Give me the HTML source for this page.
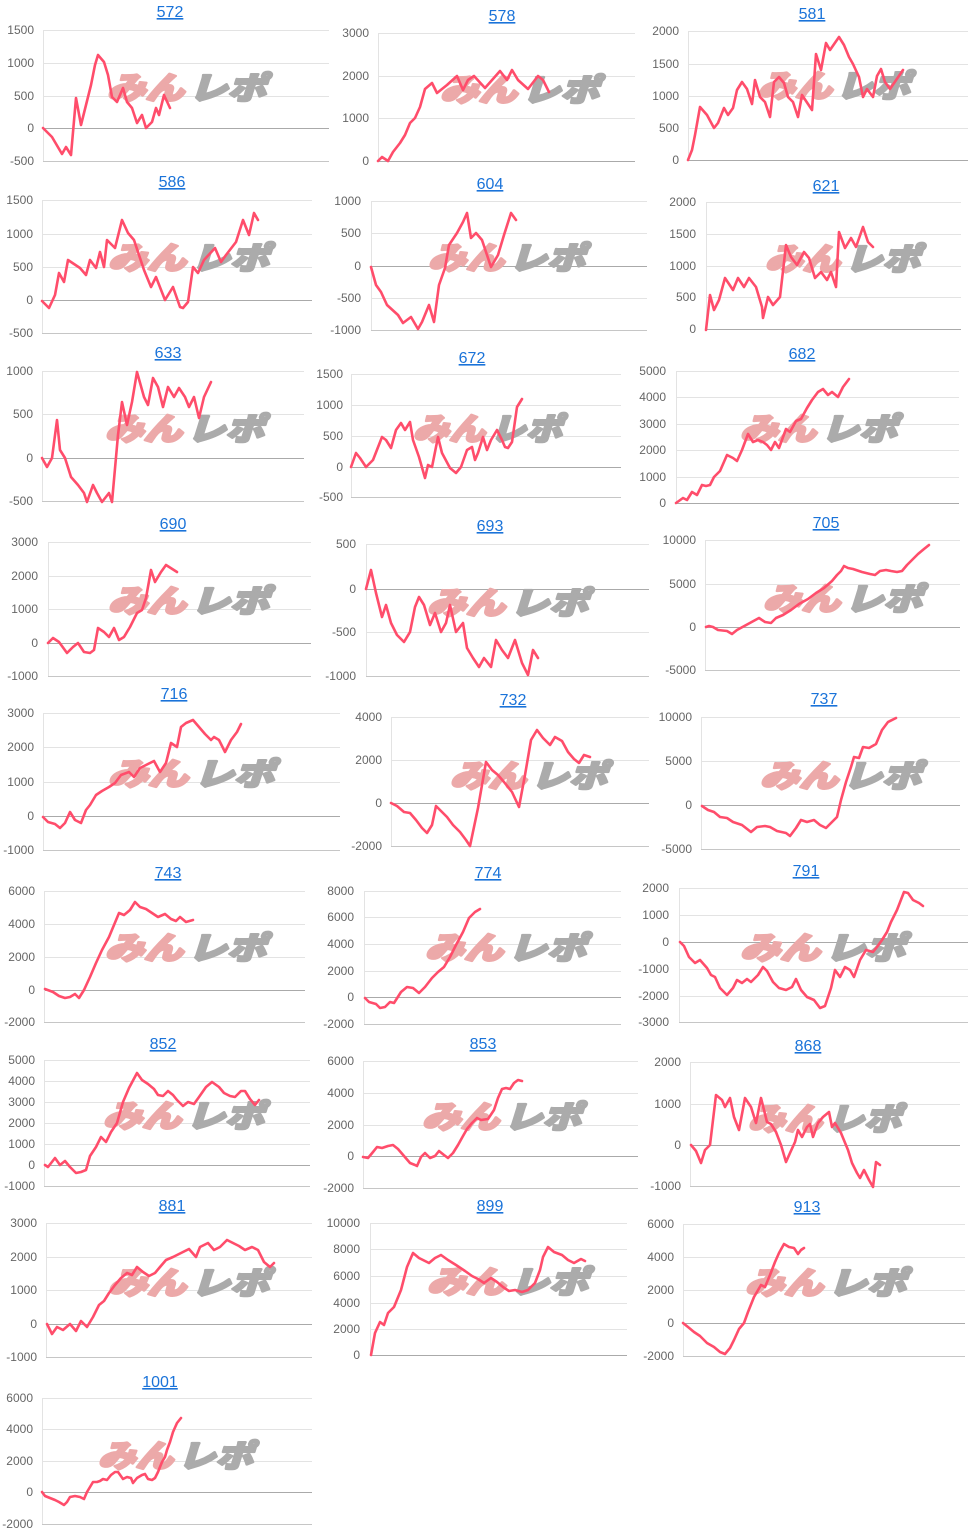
<!DOCTYPE html>
<html><head><meta charset="utf-8">
<style>
html,body{margin:0;padding:0;background:#fff;}
svg{display:block;}
.g{stroke:#e3e3e3;stroke-width:1}
.z{stroke:#aaa;stroke-width:1}
.b{stroke:#c6c6c6;stroke-width:1}
.v{stroke:#e3e3e3;stroke-width:1}
.l{fill:none;stroke:#ff4d6b;stroke-width:2.6;stroke-linejoin:round;stroke-linecap:round}
.t{font-family:"Liberation Sans",Arial,sans-serif;font-size:12px;fill:#666;text-anchor:end}
.h{font-family:"Liberation Sans",Arial,sans-serif;font-size:16px;fill:#1a73d9;text-decoration:underline;text-anchor:middle}
.wa{font-family:"Liberation Sans","Noto Sans CJK JP",sans-serif;font-size:31px;font-weight:900;font-style:italic;fill:#eca9a9;stroke:#eca9a9;stroke-width:2.4;stroke-linejoin:round}
.wb{font-family:"Liberation Sans","Noto Sans CJK JP",sans-serif;font-size:31px;font-weight:900;font-style:italic;fill:#ababab;stroke:#ababab;stroke-width:2.4;stroke-linejoin:round}
</style></head>
<body>
<svg width="973" height="1534" viewBox="0 0 973 1534" xmlns="http://www.w3.org/2000/svg">

<!-- 572 -->
<g>
<line class="g" x1="43" x2="329" y1="30.5" y2="30.5"/><line class="g" x1="43" x2="329" y1="63.5" y2="63.5"/><line class="g" x1="43" x2="329" y1="96.5" y2="96.5"/><line class="z" x1="43" x2="329" y1="128.5" y2="128.5"/><line class="b" x1="43" x2="329" y1="161.5" y2="161.5"/>
<line class="v" x1="43.5" x2="43.5" y1="30" y2="161"/>
<text class="t" x="34" y="34">1500</text><text class="t" x="34" y="67">1000</text><text class="t" x="34" y="100">500</text><text class="t" x="34" y="132">0</text><text class="t" x="34" y="165">-500</text>
<text class="h" x="170" y="17">572</text>
<g transform="translate(107,102)"><text class="wa" x="0" y="-3" textLength="77" lengthAdjust="spacingAndGlyphs">みん</text><text class="wb" x="82" y="-3" textLength="77" lengthAdjust="spacingAndGlyphs">レポ</text></g>
<polyline class="l" points="43,128 52,137 62,154 66,147 71,155 76,98 81,125 86,105 91,85 95,65 98,55 104,62 108,75 112,97 117,102 123,88 127,102 132,108 137,123 142,115 146,128 152,122 156,108 159,115 164,95 170,108"/>
</g>

<!-- 578 -->
<g>
<line class="g" x1="378" x2="635" y1="33.5" y2="33.5"/><line class="g" x1="378" x2="635" y1="76.5" y2="76.5"/><line class="g" x1="378" x2="635" y1="118.5" y2="118.5"/><line class="z" x1="378" x2="635" y1="161.5" y2="161.5"/>
<line class="v" x1="378.5" x2="378.5" y1="33" y2="161"/>
<text class="t" x="369" y="37">3000</text><text class="t" x="369" y="80">2000</text><text class="t" x="369" y="122">1000</text><text class="t" x="369" y="165">0</text>
<text class="h" x="502" y="21">578</text>
<g transform="translate(440,104)"><text class="wa" x="0" y="-3" textLength="77" lengthAdjust="spacingAndGlyphs">みん</text><text class="wb" x="82" y="-3" textLength="77" lengthAdjust="spacingAndGlyphs">レポ</text></g>
<polyline class="l" points="378,161 382,157 388,161 393,152 400,143 405,135 410,123 415,118 420,107 425,89 432,83 437,93 447,85 457,76 463,90 468,80 474,76 485,88 500,71 507,80 512,70 518,80 528,89 538,76 543,80 549,92"/>
</g>

<!-- 581 -->
<g>
<line class="g" x1="688" x2="968" y1="31.5" y2="31.5"/><line class="g" x1="688" x2="968" y1="64.5" y2="64.5"/><line class="g" x1="688" x2="968" y1="96.5" y2="96.5"/><line class="g" x1="688" x2="968" y1="128.5" y2="128.5"/><line class="z" x1="688" x2="968" y1="160.5" y2="160.5"/>
<line class="v" x1="688.5" x2="688.5" y1="31" y2="160"/>
<text class="t" x="679" y="35">2000</text><text class="t" x="679" y="68">1500</text><text class="t" x="679" y="100">1000</text><text class="t" x="679" y="132">500</text><text class="t" x="679" y="164">0</text>
<text class="h" x="812" y="19">581</text>
<g transform="translate(758,100)"><text class="wa" x="0" y="-3" textLength="74" lengthAdjust="spacingAndGlyphs">みん</text><text class="wb" x="78" y="-3" textLength="74" lengthAdjust="spacingAndGlyphs">レポ</text></g>
<polyline class="l" points="688,160 692,150 695,135 700,107 707,115 714,128 718,123 724,108 728,115 733,108 737,90 742,82 747,89 752,104 755,80 760,97 765,102 770,117 774,82 779,77 784,83 788,97 793,102 798,117 802,95 812,110 816,54 821,70 826,43 830,50 839,37 844,45 849,57 853,64 859,77 863,97 867,89 873,97 877,76 881,69 885,82 890,89 903,70"/>
</g>

<!-- 586 -->
<g>
<line class="g" x1="42" x2="312" y1="200.5" y2="200.5"/><line class="g" x1="42" x2="312" y1="234.5" y2="234.5"/><line class="g" x1="42" x2="312" y1="267.5" y2="267.5"/><line class="z" x1="42" x2="312" y1="300.5" y2="300.5"/><line class="b" x1="42" x2="312" y1="333.5" y2="333.5"/>
<line class="v" x1="42.5" x2="42.5" y1="200" y2="333"/>
<text class="t" x="33" y="204">1500</text><text class="t" x="33" y="238">1000</text><text class="t" x="33" y="271">500</text><text class="t" x="33" y="304">0</text><text class="t" x="33" y="337">-500</text>
<text class="h" x="172" y="187">586</text>
<g transform="translate(108,272)"><text class="wa" x="0" y="-3" textLength="78" lengthAdjust="spacingAndGlyphs">みん</text><text class="wb" x="83" y="-3" textLength="78" lengthAdjust="spacingAndGlyphs">レポ</text></g>
<polyline class="l" points="42,301 49,308 55,295 59,273 64,282 68,260 80,268 86,275 90,260 96,268 100,252 104,267 107,240 115,248 122,220 128,233 134,240 144,270 151,287 156,277 165,300 173,287 180,307 183,308 188,302 193,267 198,273 204,260 215,248 221,262 226,255 236,242 243,220 249,235 254,213 258,220"/>
</g>

<!-- 604 -->
<g>
<line class="g" x1="371" x2="647" y1="201.5" y2="201.5"/><line class="g" x1="371" x2="647" y1="233.5" y2="233.5"/><line class="z" x1="371" x2="647" y1="266.5" y2="266.5"/><line class="g" x1="371" x2="647" y1="298.5" y2="298.5"/><line class="b" x1="371" x2="647" y1="330.5" y2="330.5"/>
<line class="v" x1="371.5" x2="371.5" y1="201" y2="330"/>
<text class="t" x="361" y="205">1000</text><text class="t" x="361" y="237">500</text><text class="t" x="361" y="270">0</text><text class="t" x="361" y="302">-500</text><text class="t" x="361" y="334">-1000</text>
<text class="h" x="490" y="189">604</text>
<g transform="translate(428,272)"><text class="wa" x="0" y="-3" textLength="76" lengthAdjust="spacingAndGlyphs">みん</text><text class="wb" x="81" y="-3" textLength="76" lengthAdjust="spacingAndGlyphs">レポ</text></g>
<polyline class="l" points="371,267 376,285 381,292 387,305 398,315 403,323 411,317 418,329 422,322 429,305 434,322 439,285 445,268 449,245 457,233 463,222 467,213 471,238 476,233 482,240 491,267 498,255 504,235 511,213 516,220"/>
</g>

<!-- 621 -->
<g>
<line class="g" x1="706" x2="961" y1="202.5" y2="202.5"/><line class="g" x1="706" x2="961" y1="234.5" y2="234.5"/><line class="g" x1="706" x2="961" y1="266.5" y2="266.5"/><line class="g" x1="706" x2="961" y1="297.5" y2="297.5"/><line class="z" x1="706" x2="961" y1="329.5" y2="329.5"/>
<line class="v" x1="706.5" x2="706.5" y1="202" y2="329"/>
<text class="t" x="696" y="206">2000</text><text class="t" x="696" y="238">1500</text><text class="t" x="696" y="270">1000</text><text class="t" x="696" y="301">500</text><text class="t" x="696" y="333">0</text>
<text class="h" x="826" y="191">621</text>
<g transform="translate(765,273)"><text class="wa" x="0" y="-3" textLength="75" lengthAdjust="spacingAndGlyphs">みん</text><text class="wb" x="80" y="-3" textLength="75" lengthAdjust="spacingAndGlyphs">レポ</text></g>
<polyline class="l" points="706,330 710,295 714,310 719,300 725,278 733,290 738,278 744,287 749,278 756,287 762,307 763,318 768,297 773,305 780,297 786,245 791,257 797,265 804,252 809,258 815,278 821,272 827,280 831,272 836,287 839,232 845,248 851,238 856,247 863,227 868,242 873,247"/>
</g>

<!-- 633 -->
<g>
<line class="g" x1="42" x2="304" y1="371.5" y2="371.5"/><line class="g" x1="42" x2="304" y1="414.5" y2="414.5"/><line class="z" x1="42" x2="304" y1="458.5" y2="458.5"/><line class="b" x1="42" x2="304" y1="501.5" y2="501.5"/>
<line class="v" x1="42.5" x2="42.5" y1="371" y2="501"/>
<text class="t" x="33" y="375">1000</text><text class="t" x="33" y="418">500</text><text class="t" x="33" y="462">0</text><text class="t" x="33" y="505">-500</text>
<text class="h" x="168" y="358">633</text>
<g transform="translate(105,443)"><text class="wa" x="0" y="-3" textLength="77" lengthAdjust="spacingAndGlyphs">みん</text><text class="wb" x="82" y="-3" textLength="77" lengthAdjust="spacingAndGlyphs">レポ</text></g>
<polyline class="l" points="42,458 47,467 52,458 57,420 60,450 65,458 71,477 78,485 84,493 87,502 93,485 97,493 102,502 109,493 112,502 118,435 122,402 127,425 132,402 137,372 144,397 148,405 153,378 158,387 163,407 168,387 174,397 179,388 185,397 189,407 194,397 199,418 204,397 211,382"/>
</g>

<!-- 672 -->
<g>
<line class="g" x1="351" x2="621" y1="374.5" y2="374.5"/><line class="g" x1="351" x2="621" y1="405.5" y2="405.5"/><line class="g" x1="351" x2="621" y1="436.5" y2="436.5"/><line class="z" x1="351" x2="621" y1="467.5" y2="467.5"/><line class="b" x1="351" x2="621" y1="497.5" y2="497.5"/>
<line class="v" x1="351.5" x2="351.5" y1="374" y2="497"/>
<text class="t" x="343" y="378">1500</text><text class="t" x="343" y="409">1000</text><text class="t" x="343" y="440">500</text><text class="t" x="343" y="471">0</text><text class="t" x="343" y="501">-500</text>
<text class="h" x="472" y="363">672</text>
<g transform="translate(413,443)"><text class="wa" x="0" y="-3" textLength="72" lengthAdjust="spacingAndGlyphs">みん</text><text class="wb" x="77" y="-3" textLength="72" lengthAdjust="spacingAndGlyphs">レポ</text></g>
<polyline class="l" points="351,467 356,453 360,458 366,467 373,460 382,437 386,440 391,448 396,430 401,423 405,430 410,422 413,440 419,457 425,478 428,465 432,467 438,437 442,453 450,468 456,473 461,467 467,450 472,447 475,460 478,453 483,437 487,450 491,440 497,430 502,440 505,447 508,448 512,442 517,407 522,399"/>
</g>

<!-- 682 -->
<g>
<line class="g" x1="676" x2="959" y1="371.5" y2="371.5"/><line class="g" x1="676" x2="959" y1="397.5" y2="397.5"/><line class="g" x1="676" x2="959" y1="424.5" y2="424.5"/><line class="g" x1="676" x2="959" y1="450.5" y2="450.5"/><line class="g" x1="676" x2="959" y1="477.5" y2="477.5"/><line class="z" x1="676" x2="959" y1="503.5" y2="503.5"/>
<line class="v" x1="676.5" x2="676.5" y1="371" y2="503"/>
<text class="t" x="666" y="375">5000</text><text class="t" x="666" y="401">4000</text><text class="t" x="666" y="428">3000</text><text class="t" x="666" y="454">2000</text><text class="t" x="666" y="481">1000</text><text class="t" x="666" y="507">0</text>
<text class="h" x="802" y="359">682</text>
<g transform="translate(740,443)"><text class="wa" x="0" y="-3" textLength="76" lengthAdjust="spacingAndGlyphs">みん</text><text class="wb" x="81" y="-3" textLength="76" lengthAdjust="spacingAndGlyphs">レポ</text></g>
<polyline class="l" points="676,503 683,498 687,500 692,492 697,495 702,485 706,486 710,485 714,477 720,471 727,455 733,458 737,461 742,450 748,434 753,442 758,440 763,442 767,445 771,450 775,442 779,448 786,429 790,432 796,421 801,419 807,408 812,400 818,392 823,389 828,395 832,392 838,397 843,387 849,379"/>
</g>

<!-- 690 -->
<g>
<line class="g" x1="48" x2="311" y1="542.5" y2="542.5"/><line class="g" x1="48" x2="311" y1="576.5" y2="576.5"/><line class="g" x1="48" x2="311" y1="609.5" y2="609.5"/><line class="z" x1="48" x2="311" y1="643.5" y2="643.5"/><line class="b" x1="48" x2="311" y1="676.5" y2="676.5"/>
<line class="v" x1="48.5" x2="48.5" y1="542" y2="676"/>
<text class="t" x="38" y="546">3000</text><text class="t" x="38" y="580">2000</text><text class="t" x="38" y="613">1000</text><text class="t" x="38" y="647">0</text><text class="t" x="38" y="680">-1000</text>
<text class="h" x="173" y="529">690</text>
<g transform="translate(108,615)"><text class="wa" x="0" y="-3" textLength="78" lengthAdjust="spacingAndGlyphs">みん</text><text class="wb" x="83" y="-3" textLength="78" lengthAdjust="spacingAndGlyphs">レポ</text></g>
<polyline class="l" points="48,643 53,638 59,642 67,653 73,647 78,643 84,652 90,653 94,650 98,628 104,632 109,637 114,628 119,640 124,637 130,627 137,613 142,610 146,598 151,570 155,582 161,572 166,565 177,572"/>
</g>

<!-- 693 -->
<g>
<line class="g" x1="366" x2="649" y1="544.5" y2="544.5"/><line class="z" x1="366" x2="649" y1="589.5" y2="589.5"/><line class="g" x1="366" x2="649" y1="632.5" y2="632.5"/><line class="b" x1="366" x2="649" y1="676.5" y2="676.5"/>
<line class="v" x1="366.5" x2="366.5" y1="544" y2="676"/>
<text class="t" x="356" y="548">500</text><text class="t" x="356" y="593">0</text><text class="t" x="356" y="636">-500</text><text class="t" x="356" y="680">-1000</text>
<text class="h" x="490" y="531">693</text>
<g transform="translate(427,617)"><text class="wa" x="0" y="-3" textLength="78" lengthAdjust="spacingAndGlyphs">みん</text><text class="wb" x="83" y="-3" textLength="78" lengthAdjust="spacingAndGlyphs">レポ</text></g>
<polyline class="l" points="366,589 371,570 376,593 382,617 386,605 391,623 397,635 404,642 410,632 415,607 419,597 424,605 430,625 435,613 441,632 446,623 450,605 456,632 463,623 467,648 473,658 479,667 484,658 491,667 496,640 502,650 508,658 515,640 522,663 528,675 533,650 538,658"/>
</g>

<!-- 705 -->
<g>
<line class="g" x1="705" x2="960" y1="540.5" y2="540.5"/><line class="g" x1="705" x2="960" y1="584.5" y2="584.5"/><line class="z" x1="705" x2="960" y1="627.5" y2="627.5"/><line class="b" x1="705" x2="960" y1="670.5" y2="670.5"/>
<line class="v" x1="705.5" x2="705.5" y1="540" y2="670"/>
<text class="t" x="696" y="544">10000</text><text class="t" x="696" y="588">5000</text><text class="t" x="696" y="631">0</text><text class="t" x="696" y="674">-5000</text>
<text class="h" x="826" y="528">705</text>
<g transform="translate(763,613)"><text class="wa" x="0" y="-3" textLength="77" lengthAdjust="spacingAndGlyphs">みん</text><text class="wb" x="82" y="-3" textLength="77" lengthAdjust="spacingAndGlyphs">レポ</text></g>
<polyline class="l" points="706,627 709,626 713,627 718,630 727,631 732,634 737,630 748,624 759,618 765,622 771,623 776,618 783,615 791,610 799,604 808,599 816,593 824,588 832,581 837,575 841,571 844,566 848,568 853,569 862,572 870,574 875,575 880,571 886,570 891,571 897,572 902,571 907,565 913,559 918,554 924,549 929,545"/>
</g>

<!-- 716 -->
<g>
<line class="g" x1="43" x2="340" y1="713.5" y2="713.5"/><line class="g" x1="43" x2="340" y1="747.5" y2="747.5"/><line class="g" x1="43" x2="340" y1="782.5" y2="782.5"/><line class="z" x1="43" x2="340" y1="816.5" y2="816.5"/><line class="b" x1="43" x2="340" y1="850.5" y2="850.5"/>
<line class="v" x1="43.5" x2="43.5" y1="713" y2="850"/>
<text class="t" x="34" y="717">3000</text><text class="t" x="34" y="751">2000</text><text class="t" x="34" y="786">1000</text><text class="t" x="34" y="820">0</text><text class="t" x="34" y="854">-1000</text>
<text class="h" x="174" y="699">716</text>
<g transform="translate(108,788)"><text class="wa" x="0" y="-3" textLength="80" lengthAdjust="spacingAndGlyphs">みん</text><text class="wb" x="86" y="-3" textLength="80" lengthAdjust="spacingAndGlyphs">レポ</text></g>
<polyline class="l" points="43,817 48,822 55,824 60,828 65,823 70,812 75,820 81,823 86,810 90,805 96,795 102,791 109,787 115,783 121,775 129,772 134,777 140,768 146,765 154,761 160,772 166,763 171,743 177,747 181,727 186,723 193,720 199,727 205,734 211,740 214,737 219,740 225,752 231,740 237,732 241,724"/>
</g>

<!-- 732 -->
<g>
<line class="g" x1="391" x2="649" y1="717.5" y2="717.5"/><line class="g" x1="391" x2="649" y1="760.5" y2="760.5"/><line class="z" x1="391" x2="649" y1="803.5" y2="803.5"/><line class="b" x1="391" x2="649" y1="846.5" y2="846.5"/>
<line class="v" x1="391.5" x2="391.5" y1="717" y2="846"/>
<text class="t" x="382" y="721">4000</text><text class="t" x="382" y="764">2000</text><text class="t" x="382" y="807">0</text><text class="t" x="382" y="850">-2000</text>
<text class="h" x="513" y="705">732</text>
<g transform="translate(450,790)"><text class="wa" x="0" y="-3" textLength="76" lengthAdjust="spacingAndGlyphs">みん</text><text class="wb" x="81" y="-3" textLength="76" lengthAdjust="spacingAndGlyphs">レポ</text></g>
<polyline class="l" points="391,803 397,806 404,812 410,813 416,820 422,828 427,833 432,825 436,806 442,812 447,817 453,825 460,832 466,840 470,846 478,808 486,762 492,770 498,775 504,782 512,792 519,807 525,775 531,740 537,730 543,738 550,745 555,737 562,741 568,752 574,759 579,763 584,755 590,757"/>
</g>

<!-- 737 -->
<g>
<line class="g" x1="701" x2="960" y1="717.5" y2="717.5"/><line class="g" x1="701" x2="960" y1="761.5" y2="761.5"/><line class="z" x1="701" x2="960" y1="805.5" y2="805.5"/><line class="b" x1="701" x2="960" y1="849.5" y2="849.5"/>
<line class="v" x1="701.5" x2="701.5" y1="717" y2="849"/>
<text class="t" x="692" y="721">10000</text><text class="t" x="692" y="765">5000</text><text class="t" x="692" y="809">0</text><text class="t" x="692" y="853">-5000</text>
<text class="h" x="824" y="704">737</text>
<g transform="translate(760,790)"><text class="wa" x="0" y="-3" textLength="78" lengthAdjust="spacingAndGlyphs">みん</text><text class="wb" x="83" y="-3" textLength="78" lengthAdjust="spacingAndGlyphs">レポ</text></g>
<polyline class="l" points="702,806 708,810 714,812 720,817 727,818 733,822 742,825 751,832 757,827 765,826 770,827 777,831 786,833 790,836 796,828 801,820 807,822 814,820 820,825 826,828 832,822 837,817 841,800 846,782 851,767 854,757 859,758 863,747 869,748 876,744 882,730 888,722 896,718"/>
</g>

<!-- 743 -->
<g>
<line class="g" x1="44" x2="305" y1="891.5" y2="891.5"/><line class="g" x1="44" x2="305" y1="924.5" y2="924.5"/><line class="g" x1="44" x2="305" y1="957.5" y2="957.5"/><line class="z" x1="44" x2="305" y1="990.5" y2="990.5"/><line class="b" x1="44" x2="305" y1="1022.5" y2="1022.5"/>
<line class="v" x1="44.5" x2="44.5" y1="891" y2="1022"/>
<text class="t" x="35" y="895">6000</text><text class="t" x="35" y="928">4000</text><text class="t" x="35" y="961">2000</text><text class="t" x="35" y="994">0</text><text class="t" x="35" y="1026">-2000</text>
<text class="h" x="168" y="878">743</text>
<g transform="translate(105,962)"><text class="wa" x="0" y="-3" textLength="78" lengthAdjust="spacingAndGlyphs">みん</text><text class="wb" x="83" y="-3" textLength="78" lengthAdjust="spacingAndGlyphs">レポ</text></g>
<polyline class="l" points="45,989 53,992 59,996 65,998 70,997 75,994 79,998 84,990 90,977 96,963 102,950 109,937 114,925 119,913 124,915 130,910 135,902 140,907 146,909 152,913 158,917 165,914 171,919 176,921 180,917 186,922 193,920"/>
</g>

<!-- 774 -->
<g>
<line class="g" x1="364" x2="621" y1="891.5" y2="891.5"/><line class="g" x1="364" x2="621" y1="917.5" y2="917.5"/><line class="g" x1="364" x2="621" y1="944.5" y2="944.5"/><line class="g" x1="364" x2="621" y1="971.5" y2="971.5"/><line class="z" x1="364" x2="621" y1="997.5" y2="997.5"/><line class="b" x1="364" x2="621" y1="1024.5" y2="1024.5"/>
<line class="v" x1="364.5" x2="364.5" y1="891" y2="1024"/>
<text class="t" x="354" y="895">8000</text><text class="t" x="354" y="921">6000</text><text class="t" x="354" y="948">4000</text><text class="t" x="354" y="975">2000</text><text class="t" x="354" y="1001">0</text><text class="t" x="354" y="1028">-2000</text>
<text class="h" x="488" y="878">774</text>
<g transform="translate(425,962)"><text class="wa" x="0" y="-3" textLength="78" lengthAdjust="spacingAndGlyphs">みん</text><text class="wb" x="83" y="-3" textLength="78" lengthAdjust="spacingAndGlyphs">レポ</text></g>
<polyline class="l" points="365,998 369,1002 376,1004 380,1008 385,1007 390,1002 394,1003 401,992 407,987 413,988 419,993 425,987 432,978 438,972 444,967 450,957 456,945 463,932 469,918 475,912 480,909"/>
</g>

<!-- 791 -->
<g>
<line class="g" x1="679" x2="968" y1="888.5" y2="888.5"/><line class="g" x1="679" x2="968" y1="915.5" y2="915.5"/><line class="z" x1="679" x2="968" y1="942.5" y2="942.5"/><line class="g" x1="679" x2="968" y1="969.5" y2="969.5"/><line class="g" x1="679" x2="968" y1="996.5" y2="996.5"/><line class="b" x1="679" x2="968" y1="1022.5" y2="1022.5"/>
<line class="v" x1="679.5" x2="679.5" y1="888" y2="1022"/>
<text class="t" x="669" y="892">2000</text><text class="t" x="669" y="919">1000</text><text class="t" x="669" y="946">0</text><text class="t" x="669" y="973">-1000</text><text class="t" x="669" y="1000">-2000</text><text class="t" x="669" y="1026">-3000</text>
<text class="h" x="806" y="876">791</text>
<g transform="translate(740,962)"><text class="wa" x="0" y="-3" textLength="80" lengthAdjust="spacingAndGlyphs">みん</text><text class="wb" x="85" y="-3" textLength="80" lengthAdjust="spacingAndGlyphs">レポ</text></g>
<polyline class="l" points="680,942 684,946 689,957 695,963 700,960 707,968 711,975 715,977 720,988 727,995 733,988 737,980 742,983 747,979 751,982 758,975 763,967 767,971 773,982 779,988 786,990 792,987 796,979 801,990 807,997 814,1000 820,1008 825,1006 831,988 835,970 840,977 845,967 850,970 854,977 860,960 866,950 873,952 877,947 882,940 887,932 891,922 897,910 904,892 908,893 913,900 919,903 923,906"/>
</g>

<!-- 852 -->
<g>
<line class="g" x1="44" x2="310" y1="1060.5" y2="1060.5"/><line class="g" x1="44" x2="310" y1="1081.5" y2="1081.5"/><line class="g" x1="44" x2="310" y1="1102.5" y2="1102.5"/><line class="g" x1="44" x2="310" y1="1123.5" y2="1123.5"/><line class="g" x1="44" x2="310" y1="1144.5" y2="1144.5"/><line class="z" x1="44" x2="310" y1="1165.5" y2="1165.5"/><line class="b" x1="44" x2="310" y1="1186.5" y2="1186.5"/>
<line class="v" x1="44.5" x2="44.5" y1="1060" y2="1186"/>
<text class="t" x="35" y="1064">5000</text><text class="t" x="35" y="1085">4000</text><text class="t" x="35" y="1106">3000</text><text class="t" x="35" y="1127">2000</text><text class="t" x="35" y="1148">1000</text><text class="t" x="35" y="1169">0</text><text class="t" x="35" y="1190">-1000</text>
<text class="h" x="163" y="1049">852</text>
<g transform="translate(103,1130)"><text class="wa" x="0" y="-3" textLength="78" lengthAdjust="spacingAndGlyphs">みん</text><text class="wb" x="83" y="-3" textLength="78" lengthAdjust="spacingAndGlyphs">レポ</text></g>
<polyline class="l" points="45,1165 48,1167 55,1158 60,1165 65,1161 70,1167 76,1173 81,1172 86,1170 90,1156 96,1147 101,1137 106,1142 111,1132 117,1123 123,1102 129,1088 137,1073 142,1080 148,1084 154,1089 158,1095 163,1096 168,1091 173,1095 177,1100 183,1106 188,1102 194,1104 199,1097 206,1087 212,1082 219,1087 224,1093 230,1096 235,1097 241,1091 245,1091 250,1099 255,1105 259,1100"/>
</g>

<!-- 853 -->
<g>
<line class="g" x1="363" x2="638" y1="1061.5" y2="1061.5"/><line class="g" x1="363" x2="638" y1="1093.5" y2="1093.5"/><line class="g" x1="363" x2="638" y1="1125.5" y2="1125.5"/><line class="z" x1="363" x2="638" y1="1156.5" y2="1156.5"/><line class="b" x1="363" x2="638" y1="1188.5" y2="1188.5"/>
<line class="v" x1="363.5" x2="363.5" y1="1061" y2="1188"/>
<text class="t" x="354" y="1065">6000</text><text class="t" x="354" y="1097">4000</text><text class="t" x="354" y="1129">2000</text><text class="t" x="354" y="1160">0</text><text class="t" x="354" y="1192">-2000</text>
<text class="h" x="483" y="1049">853</text>
<g transform="translate(422,1131)"><text class="wa" x="0" y="-3" textLength="77" lengthAdjust="spacingAndGlyphs">みん</text><text class="wb" x="82" y="-3" textLength="77" lengthAdjust="spacingAndGlyphs">レポ</text></g>
<polyline class="l" points="363,1157 368,1158 373,1152 377,1147 382,1148 388,1146 393,1145 398,1149 404,1156 410,1163 415,1165 417,1166 421,1157 425,1153 430,1158 435,1156 439,1151 444,1155 448,1158 453,1153 458,1145 463,1136 467,1129 472,1123 477,1118 481,1120 488,1119 494,1110 498,1098 502,1089 506,1088 510,1089 514,1083 518,1080 522,1081"/>
</g>

<!-- 868 -->
<g>
<line class="g" x1="690" x2="960" y1="1062.5" y2="1062.5"/><line class="g" x1="690" x2="960" y1="1104.5" y2="1104.5"/><line class="z" x1="690" x2="960" y1="1145.5" y2="1145.5"/><line class="b" x1="690" x2="960" y1="1186.5" y2="1186.5"/>
<line class="v" x1="690.5" x2="690.5" y1="1062" y2="1186"/>
<text class="t" x="681" y="1066">2000</text><text class="t" x="681" y="1108">1000</text><text class="t" x="681" y="1149">0</text><text class="t" x="681" y="1190">-1000</text>
<text class="h" x="808" y="1051">868</text>
<g transform="translate(748,1133)"><text class="wa" x="0" y="-3" textLength="74" lengthAdjust="spacingAndGlyphs">みん</text><text class="wb" x="79" y="-3" textLength="74" lengthAdjust="spacingAndGlyphs">レポ</text></g>
<polyline class="l" points="691,1145 696,1151 701,1163 705,1150 710,1145 713,1120 716,1095 722,1100 725,1107 730,1098 734,1117 739,1130 745,1098 751,1107 756,1123 761,1098 767,1122 771,1124 776,1132 781,1145 786,1162 790,1153 795,1142 798,1130 802,1137 807,1127 810,1124 813,1137 818,1123 823,1117 829,1112 832,1127 835,1123 841,1133 848,1150 852,1163 857,1173 860,1178 864,1170 869,1180 873,1187 876,1162 880,1165"/>
</g>

<!-- 881 -->
<g>
<line class="g" x1="46" x2="312" y1="1223.5" y2="1223.5"/><line class="g" x1="46" x2="312" y1="1257.5" y2="1257.5"/><line class="g" x1="46" x2="312" y1="1290.5" y2="1290.5"/><line class="z" x1="46" x2="312" y1="1324.5" y2="1324.5"/><line class="b" x1="46" x2="312" y1="1357.5" y2="1357.5"/>
<line class="v" x1="46.5" x2="46.5" y1="1223" y2="1357"/>
<text class="t" x="37" y="1227">3000</text><text class="t" x="37" y="1261">2000</text><text class="t" x="37" y="1294">1000</text><text class="t" x="37" y="1328">0</text><text class="t" x="37" y="1361">-1000</text>
<text class="h" x="172" y="1211">881</text>
<g transform="translate(108,1297)"><text class="wa" x="0" y="-3" textLength="78" lengthAdjust="spacingAndGlyphs">みん</text><text class="wb" x="83" y="-3" textLength="78" lengthAdjust="spacingAndGlyphs">レポ</text></g>
<polyline class="l" points="47,1324 52,1334 57,1327 63,1330 70,1324 76,1331 81,1321 87,1327 93,1317 99,1305 104,1301 109,1293 115,1285 121,1278 127,1273 132,1275 137,1267 143,1272 149,1276 155,1273 160,1267 166,1260 173,1257 179,1254 185,1251 189,1249 196,1257 200,1247 208,1243 214,1250 220,1247 227,1240 233,1243 239,1246 245,1250 252,1247 258,1250 264,1262 270,1267 274,1263"/>
</g>

<!-- 899 -->
<g>
<line class="g" x1="370" x2="627" y1="1223.5" y2="1223.5"/><line class="g" x1="370" x2="627" y1="1249.5" y2="1249.5"/><line class="g" x1="370" x2="627" y1="1276.5" y2="1276.5"/><line class="g" x1="370" x2="627" y1="1303.5" y2="1303.5"/><line class="g" x1="370" x2="627" y1="1329.5" y2="1329.5"/><line class="z" x1="370" x2="627" y1="1355.5" y2="1355.5"/>
<line class="v" x1="370.5" x2="370.5" y1="1223" y2="1355"/>
<text class="t" x="360" y="1227">10000</text><text class="t" x="360" y="1253">8000</text><text class="t" x="360" y="1280">6000</text><text class="t" x="360" y="1307">4000</text><text class="t" x="360" y="1333">2000</text><text class="t" x="360" y="1359">0</text>
<text class="h" x="490" y="1211">899</text>
<g transform="translate(427,1296)"><text class="wa" x="0" y="-3" textLength="78" lengthAdjust="spacingAndGlyphs">みん</text><text class="wb" x="83" y="-3" textLength="78" lengthAdjust="spacingAndGlyphs">レポ</text></g>
<polyline class="l" points="371,1355 375,1333 380,1322 384,1325 388,1313 394,1307 401,1290 407,1267 413,1253 419,1258 429,1263 435,1258 441,1255 448,1260 456,1265 465,1271 472,1276 478,1279 484,1283 491,1278 497,1282 503,1287 509,1291 515,1290 522,1292 528,1290 535,1283 540,1270 543,1257 548,1247 554,1252 562,1255 568,1260 574,1263 581,1259 585,1261"/>
</g>

<!-- 913 -->
<g>
<line class="g" x1="683" x2="965" y1="1224.5" y2="1224.5"/><line class="g" x1="683" x2="965" y1="1257.5" y2="1257.5"/><line class="g" x1="683" x2="965" y1="1290.5" y2="1290.5"/><line class="z" x1="683" x2="965" y1="1323.5" y2="1323.5"/><line class="b" x1="683" x2="965" y1="1356.5" y2="1356.5"/>
<line class="v" x1="683.5" x2="683.5" y1="1224" y2="1356"/>
<text class="t" x="674" y="1228">6000</text><text class="t" x="674" y="1261">4000</text><text class="t" x="674" y="1294">2000</text><text class="t" x="674" y="1327">0</text><text class="t" x="674" y="1360">-2000</text>
<text class="h" x="807" y="1212">913</text>
<g transform="translate(745,1297)"><text class="wa" x="0" y="-3" textLength="78" lengthAdjust="spacingAndGlyphs">みん</text><text class="wb" x="83" y="-3" textLength="78" lengthAdjust="spacingAndGlyphs">レポ</text></g>
<polyline class="l" points="683,1323 688,1327 694,1332 700,1336 707,1343 714,1347 720,1352 725,1354 730,1348 734,1340 739,1329 744,1323 748,1312 754,1297 761,1285 765,1287 770,1275 775,1262 779,1253 784,1244 789,1247 794,1248 798,1254 801,1250 804,1248"/>
</g>

<!-- 1001 -->
<g>
<line class="g" x1="42" x2="312" y1="1398.5" y2="1398.5"/><line class="g" x1="42" x2="312" y1="1429.5" y2="1429.5"/><line class="g" x1="42" x2="312" y1="1461.5" y2="1461.5"/><line class="z" x1="42" x2="312" y1="1492.5" y2="1492.5"/><line class="b" x1="42" x2="312" y1="1524.5" y2="1524.5"/>
<line class="v" x1="42.5" x2="42.5" y1="1398" y2="1524"/>
<text class="t" x="33" y="1402">6000</text><text class="t" x="33" y="1433">4000</text><text class="t" x="33" y="1465">2000</text><text class="t" x="33" y="1496">0</text><text class="t" x="33" y="1528">-2000</text>
<text class="h" x="160" y="1387">1001</text>
<g transform="translate(98,1470)"><text class="wa" x="0" y="-3" textLength="75" lengthAdjust="spacingAndGlyphs">みん</text><text class="wb" x="80" y="-3" textLength="75" lengthAdjust="spacingAndGlyphs">レポ</text></g>
<polyline class="l" points="42,1492 45,1496 50,1498 55,1500 59,1502 64,1505 67,1502 70,1497 75,1496 80,1497 84,1499 87,1492 90,1487 93,1482 97,1482 100,1481 103,1479 107,1480 111,1475 115,1472 118,1472 123,1479 127,1477 131,1478 133,1483 137,1478 142,1475 145,1474 148,1479 152,1480 155,1478 158,1472 162,1462 165,1457 167,1450 170,1442 173,1432 177,1423 181,1418"/>
</g>

</svg>
</body></html>
